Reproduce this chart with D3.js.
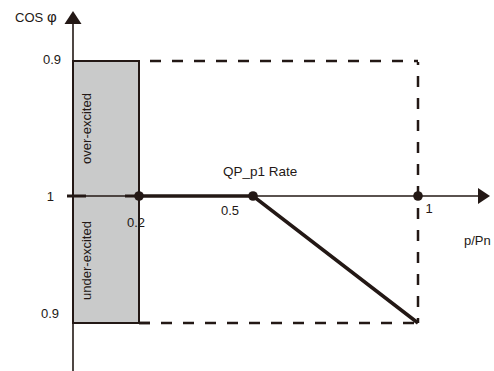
<!DOCTYPE html>
<html>
<head>
<meta charset="utf-8">
<script src="https://cdn.jsdelivr.net/npm/d3@7/dist/d3.min.js"></script>
<style>
  body { margin: 0; background: #fff; }
  text { font-family: "Liberation Sans", Arial, sans-serif; fill: #231815; }
</style>
</head>
<body>
<svg id="chart"></svg>
<script>
// curve QP_p1 : p/Pn vs cos phi (under-excited side)
var curveP   = [0.2, 0.5, 1];
var curveCos = [1, 1, 0.9];
var dotP     = [0.2, 0.5, 1];
var dotCos   = [1, 1, 1];
var xTicks      = [0.2, 0.5, 1];
var xTickLabels = ["0.2", "0.5", "1"];
var yOverTick   = 0.9;
var yUnderTick  = 0.9;
var yMidTick    = 1;
var pMax = 1, cosMin = 0.9;

drawQP("#chart");

function drawQP(id){
	var svgWidth = 494, svgHeight = 371;
	var ink = "#231815";
	var gray = "#c9caca";

	var svg = d3.select(id)
		.attr("width", svgWidth)
		.attr("height", svgHeight);

	// piecewise scale, the sketch is not to scale
	var x = d3.scaleLinear().domain([0, 0.2, 0.5, 1]).range([73, 139, 253, 418]);
	var yOver  = d3.scaleLinear().domain([1, 0.9]).range([196, 61]);
	var yUnder = d3.scaleLinear().domain([1, 0.9]).range([196, 323]);

	// grey band 0..0.2
	svg.append("rect")
		.attr("x", x(0))
		.attr("y", yOver(yOverTick))
		.attr("width", x(0.2) - x(0))
		.attr("height", yUnder(yUnderTick) - yOver(yOverTick))
		.attr("fill", gray)
		.attr("stroke", ink)
		.attr("stroke-width", 2);

	// dashed limit box
	svg.append("line")
		.attr("x1", x(0.2)).attr("x2", x(pMax))
		.attr("y1", yOver(cosMin)).attr("y2", yOver(cosMin))
		.attr("stroke", ink).attr("stroke-width", 2.5)
		.attr("stroke-dasharray", "11,11").attr("stroke-dashoffset", 11);
	svg.append("line")
		.attr("x1", x(0.2)).attr("x2", x(pMax))
		.attr("y1", yUnder(cosMin)).attr("y2", yUnder(cosMin))
		.attr("stroke", ink).attr("stroke-width", 2.5)
		.attr("stroke-dasharray", "11,11");
	svg.append("line")
		.attr("x1", x(pMax)).attr("x2", x(pMax))
		.attr("y1", yOver(cosMin) + 1).attr("y2", yUnder(cosMin))
		.attr("stroke", ink).attr("stroke-width", 2.5)
		.attr("stroke-dasharray", "11,11").attr("stroke-dashoffset", 8);

	// solid start of box edges beyond grey band
	svg.append("line")
		.attr("x1", x(0.2)).attr("x2", x(0.2) + 11)
		.attr("y1", yUnder(cosMin)).attr("y2", yUnder(cosMin))
		.attr("stroke", ink).attr("stroke-width", 2.5);

	// axes
	svg.append("line")
		.attr("x1", x(0)).attr("x2", x(0))
		.attr("y1", 22).attr("y2", svgHeight)
		.attr("stroke", ink).attr("stroke-width", 1.6);
	svg.append("path")
		.attr("d", "M" + x(0) + ",11 L" + (x(0) - 8.5) + ",24 L" + (x(0) + 8.5) + ",24 Z")
		.attr("fill", ink);

	svg.append("line")
		.attr("x1", x(0) - 6).attr("x2", 480)
		.attr("y1", yOver(yMidTick)).attr("y2", yOver(yMidTick))
		.attr("stroke", ink).attr("stroke-width", 1.6);
	svg.append("path")
		.attr("d", "M490," + yOver(yMidTick) + " L478," + (yOver(yMidTick) - 8) + " L478," + (yOver(yMidTick) + 8) + " Z")
		.attr("fill", ink);
	// heavier tick bits on the axis
	svg.append("line")
		.attr("x1", x(0) - 6).attr("x2", x(0) + 13)
		.attr("y1", yOver(yMidTick)).attr("y2", yOver(yMidTick))
		.attr("stroke", ink).attr("stroke-width", 3);
	svg.append("line")
		.attr("x1", x(0.2) - 14).attr("x2", x(0.2))
		.attr("y1", yOver(yMidTick)).attr("y2", yOver(yMidTick))
		.attr("stroke", ink).attr("stroke-width", 3);

	// curve
	var line = d3.line()
		.x(function(d){ return x(d[0]); })
		.y(function(d){ return yUnder(d[1]); });
	svg.append("path")
		.datum(curveP.map(function(p, i){ return [p, curveCos[i]]; }))
		.attr("d", line)
		.attr("fill", "none")
		.attr("stroke", ink)
		.attr("stroke-width", 3.5);

	svg.selectAll("circle.pt")
		.data(dotP)
		.enter()
		.append("circle")
		.attr("class", "pt")
		.attr("cx", function(d){ return x(d); })
		.attr("cy", function(d, i){ return yUnder(dotCos[i]); })
		.attr("r", 4.8)
		.attr("fill", ink);

	// x tick labels
	var xdx = [-3, -23, 11];
	var xdy = [31, 19, 17];
	svg.selectAll("text.xt")
		.data(xTicks)
		.enter()
		.append("text")
		.attr("class", "xt")
		.attr("font-size", "13px")
		.attr("text-anchor", "middle")
		.attr("x", function(d, i){ return x(d) + xdx[i]; })
		.attr("y", function(d, i){ return yOver(yMidTick) + xdy[i]; })
		.text(function(d, i){ return xTickLabels[i]; });

	// y tick labels
	svg.append("text").attr("font-size", "13px").attr("text-anchor", "end")
		.attr("x", 61).attr("y", yOver(yOverTick) + 3).text(String(yOverTick));
	svg.append("text").attr("font-size", "13px").attr("text-anchor", "end")
		.attr("x", 54).attr("y", yOver(yMidTick) + 5).text(String(yMidTick));
	svg.append("text").attr("font-size", "13px").attr("text-anchor", "end")
		.attr("x", 59).attr("y", yUnder(yUnderTick) - 5).text(String(yUnderTick));

	// axis titles
	var yTitle = svg.append("text").attr("font-size", "13px")
		.attr("x", 15).attr("y", 22);
	yTitle.append("tspan").text("COS");
	yTitle.append("tspan").attr("x", 47).attr("font-size", "15px").text("φ");
	svg.append("text").attr("font-size", "13px")
		.attr("x", 464).attr("y", 245).text("p/Pn");
	svg.append("text").attr("font-size", "13.5px")
		.attr("x", 223).attr("y", 176).text("QP_p1 Rate");

	// band labels
	svg.append("text").attr("font-size", "13px").attr("text-anchor", "middle")
		.attr("transform", "translate(91," + ((yOver(yOverTick) + yOver(yMidTick)) / 2) + ") rotate(-90)")
		.text("over-excited");
	svg.append("text").attr("font-size", "13px").attr("text-anchor", "middle")
		.attr("transform", "translate(91," + ((yUnder(yUnderTick) + yUnder(yMidTick)) / 2 + 1) + ") rotate(-90)")
		.text("under-excited");
}
</script>
</body>
</html>
